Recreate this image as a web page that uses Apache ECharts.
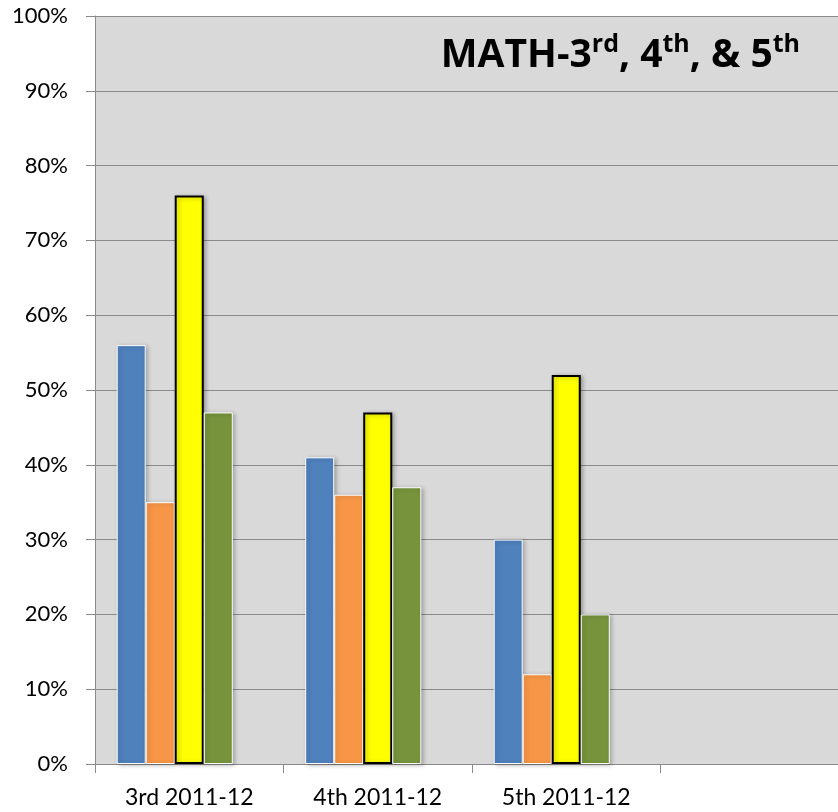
<!DOCTYPE html>
<html>
<head>
<meta charset="utf-8">
<script src="https://cdn.jsdelivr.net/npm/echarts@6/dist/echarts.min.js"></script>
<style>
  html, body { margin: 0; padding: 0; background: #fff; overflow: hidden; }
  #chart { width: 849px; height: 812px; }
</style>
</head>
<body>
<div id="chart"></div>
<script>
// values, in percent
const categories = ['3rd 2011-12', '4th 2011-12', '5th 2011-12', ''];
const blueValues = [56, 41, 30, null];
const orangeValues = [35, 36, 12, null];
const yellowValues = [76, 47, 52, null];
const greenValues = [47, 37, 20, null];
const emptyValues = [null, null, null, null];

const axisGray = '#8a8a8a';
const font = 'Lato, "Open Sans", sans-serif';
const titleFont = '"Open Sans", Lato, sans-serif';

function barSeries(data, color, border, borderWidth) {
  return {
    type: 'bar',
    data: data,
    barGap: '0%',
    barCategoryGap: '23%',
    itemStyle: {
      color: color,
      borderColor: border,
      borderWidth: borderWidth,
      shadowBlur: 4,
      shadowOffsetX: 2,
      shadowOffsetY: 1,
      shadowColor: 'rgba(0, 0, 0, 0.25)',
    },
  };
}

// the plot runs 11px past the right edge of the picture, so the
// canvas is a bit wider than the window and gets clipped
const chart = echarts.init(document.getElementById('chart'));
chart.setOption({
  animation: false,
  backgroundColor: '#fff',
  title: {
    text: '{b|MATH-3}{s|rd}{b|, 4}{s|th}{b|, & 5}{s|th}',
    right: 44,
    top: 20,
    textStyle: {
      rich: {
        b: { fontFamily: titleFont, fontWeight: 'bold', fontSize: 39, color: '#000', verticalAlign: 'bottom', lineHeight: 50 },
        s: { fontFamily: titleFont, fontWeight: 'bold', fontSize: 25, color: '#000', verticalAlign: 'bottom', lineHeight: 50, padding: [0, 0, 18, 0] },
      },
    },
  },
  grid: {
    left: 95,
    top: 16,
    bottom: 48,
    right: 0,
    show: true,
    backgroundColor: '#d9d9d9',
    borderWidth: 0,
  },
  xAxis: {
    type: 'category',
    data: categories,
    axisLine: { lineStyle: { color: axisGray, width: 1 } },
    axisTick: { show: true, length: 9, lineStyle: { color: axisGray } },
    axisLabel: { fontFamily: font, fontSize: 23, color: '#000', margin: 22 },
  },
  yAxis: {
    type: 'value',
    min: 0,
    max: 100,
    interval: 10,
    axisLine: { show: true, lineStyle: { color: axisGray, width: 1 } },
    axisTick: { show: true, length: 9, lineStyle: { color: axisGray } },
    splitLine: { lineStyle: { color: axisGray, width: 1 } },
    axisLabel: { formatter: '{value}%', fontFamily: font, fontSize: 22, color: '#000', margin: 27 },
  },
  series: [
    barSeries(blueValues, '#4f81bd', '#fff', 1),
    barSeries(orangeValues, '#f79646', '#fff', 1),
    barSeries(yellowValues, '#ffff00', '#000', 2),
    barSeries(greenValues, '#77933c', '#fff', 1),
    barSeries(emptyValues, '#4bacc6', '#fff', 1),
  ],
});
</script>
</body>
</html>
